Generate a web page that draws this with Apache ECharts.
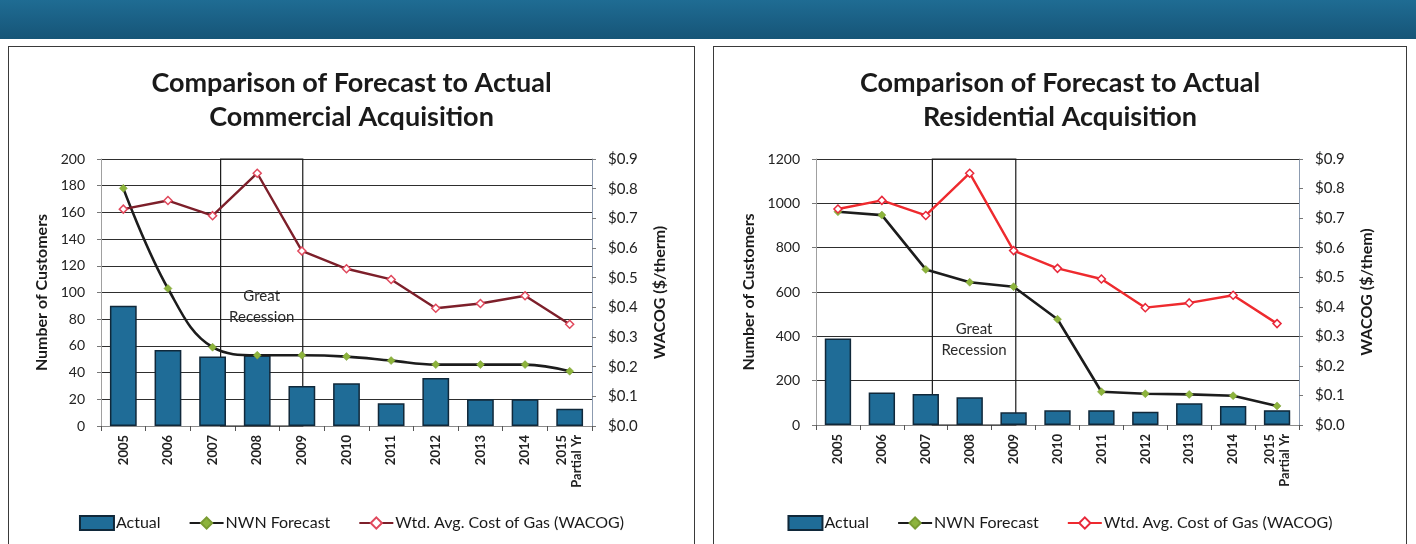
<!DOCTYPE html>
<html>
<head>
<meta charset="utf-8">
<script src="https://cdn.jsdelivr.net/npm/echarts@6/dist/echarts.min.js"></script>
<style>
  html, body { margin: 0; padding: 0; background: #fff; }
  body { width: 1416px; height: 544px; position: relative; overflow: hidden; font-family: Lato, sans-serif; }
  .banner {
    position: absolute; left: 0; top: 0; width: 1416px; height: 39px;
    background: linear-gradient(180deg, #1f6c93 0%, #1a5f84 55%, #165577 100%);
  }
  .panel { position: absolute; top: 46px; height: 560px; border: 1.5px solid #3a3a3a; box-sizing: border-box; }
  .chart { position: absolute; top: 46px; height: 498px; }
</style>
</head>
<body>
<div class="banner"></div>
<div class="panel" style="left:8px;width:687px;"></div>
<div class="panel" style="left:713px;width:694px;"></div>
<div class="chart" id="commercial" style="left:9px;width:685px;"></div>
<div class="chart" id="residential" style="left:714px;width:692px;"></div>
<script>
// categories
const years = ['2005', '2006', '2007', '2008', '2009', '2010', '2011', '2012', '2013', '2014', '2015\nPartial Yr']
// weighted avg cost of gas, $/therm (same on both charts)
const wacog = [0.731, 0.76, 0.709, 0.852, 0.59, 0.53, 0.494, 0.397, 0.413, 0.439, 0.343]
// commercial customers
const commercialActual = [90, 57, 52, 53, 30, 32, 17, 36, 20, 20, 13]
const commercialForecast = [178, 103, 59, 53, 53, 52, 49, 46, 46, 46, 41]
// residential customers
const residentialActual = [390, 147, 140, 125, 57, 66, 67, 60, 98, 86, 67]
const residentialForecast = [962, 947, 702, 644, 624, 477, 150, 141, 138, 132, 86]
// recession span (category names)
const recessionFrom = '2007'
const recessionTo = '2009'

const legendNames = ['Actual', 'NWN Forecast', 'Wtd. Avg. Cost of Gas (WACOG)']

const buildOption = (cfg) => {
  const from = years.indexOf(recessionFrom) + cfg.boxShift[0]
  const to = years.indexOf(recessionTo) + cfg.boxShift[1]
  return {
    animation: false,
    textStyle: { fontFamily: 'Lato' },
    title: {
      text: cfg.title,
      left: 'center',
      top: 20,
      padding: 0,
      textStyle: { fontSize: 27, fontWeight: 'bold', lineHeight: 34, color: '#1a1a1a', fontFamily: 'Lato' }
    },
    legend: {
      data: [{ name: legendNames[0], icon: 'rect' }, legendNames[1], legendNames[2]],
      left: 'center',
      top: 464,
      itemWidth: 34,
      itemHeight: 14,
      itemGap: 28,
      textStyle: { fontSize: 16, color: '#1a1a1a', padding: [0, 0, 0, -3] }
    },
    grid: cfg.grid,
    xAxis: [{
      type: 'category',
      data: years,
      axisLine: { lineStyle: { color: '#8a8a8a' } },
      axisTick: { show: true, length: 5, lineStyle: { color: '#555' } },
      axisLabel: { interval: 0, rotate: 90, fontSize: 13, fontWeight: 'bold', color: '#222', margin: 9, lineHeight: 15 }
    }, {
      type: 'value', min: -0.5, max: years.length - 0.5, show: false
    }],
    yAxis: [{
      type: 'value',
      min: 0, max: cfg.leftMax, interval: cfg.leftInterval,
      name: 'Number of Customers',
      nameLocation: 'middle',
      nameGap: cfg.leftNameGap,
      nameTextStyle: { fontSize: 16, fontWeight: 'bold', color: '#1a1a1a' },
      axisLine: { show: true, onZero: false, lineStyle: { color: '#a0a0a0' } },
      axisTick: { show: true, length: 4, lineStyle: { color: '#777' } },
      axisLabel: { fontSize: 14, color: '#222', margin: 16, formatter: v => String(v) },
      splitLine: { lineStyle: { color: '#2e2e2e', width: 1.2 } }
    }, {
      type: 'value',
      min: 0, max: 0.9, interval: 0.1,
      position: 'right',
      name: cfg.rightName,
      nameLocation: 'middle',
      nameGap: 60,
      nameTextStyle: { fontSize: 16, fontWeight: 'bold', color: '#1a1a1a' },
      axisLine: { show: true, onZero: false, lineStyle: { color: '#8c9bb0' } },
      axisTick: { show: true, length: 4, lineStyle: { color: '#777' } },
      axisLabel: { fontSize: 15, color: '#222', margin: 16, formatter: v => '$' + v.toFixed(1) },
      splitLine: { show: false }
    }],
    series: [{
      name: 'Actual',
      type: 'bar',
      data: cfg.actual,
      barCategoryGap: '40%',
      z: 2,
      itemStyle: { color: '#1f6c97', borderColor: '#10283a', borderWidth: 1.5 }
    }, {
      name: 'NWN Forecast',
      type: 'line',
      data: cfg.forecast,
      smooth: cfg.smooth,
      z: 4,
      symbol: 'diamond',
      symbolSize: 8,
      lineStyle: { color: '#1c1c1c', width: 2.6 },
      itemStyle: { color: '#8db43c', borderColor: '#7a9c32', borderWidth: 0.5 }
    }, {
      name: 'Wtd. Avg. Cost of Gas (WACOG)',
      type: 'line',
      yAxisIndex: 1,
      data: wacog,
      z: 4,
      symbol: 'diamond',
      symbolSize: 8,
      lineStyle: { color: cfg.wacogColor, width: 2.4 },
      itemStyle: { color: '#fff', borderColor: cfg.wacogMarker, borderWidth: 1.5 }
    }, {
      name: 'recession',
      type: 'line',
      xAxisIndex: 1,
      data: [],
      z: cfg.boxZ,
      silent: true,
      markArea: {
        silent: true,
        itemStyle: { color: 'rgba(0,0,0,0)', borderColor: '#1a1a1a', borderWidth: 1.2 },
        label: {
          show: true,
          position: 'inside',
          offset: [0, cfg.labelOffset],
          formatter: 'Great\nRecession',
          fontSize: 15,
          lineHeight: 21,
          color: '#2a2a2a'
        },
        data: [[{ xAxis: from }, { xAxis: to }]]
      }
    }]
  }
}

const commercialChart = echarts.init(document.getElementById('commercial'))
commercialChart.setOption(buildOption({
  title: 'Comparison of Forecast to Actual\nCommercial Acquisition',
  actual: commercialActual,
  forecast: commercialForecast,
  smooth: 0.4,
  leftMax: 200, leftInterval: 20, leftNameGap: 44,
  rightName: 'WACOG ($/therm)',
  wacogColor: '#7d1f2a', wacogMarker: '#e0485c',
  boxShift: [0.18, 0.02], boxZ: 1, labelOffset: 14,
  grid: { left: 92, right: 102, top: 113, bottom: 118 }
}))

const residentialChart = echarts.init(document.getElementById('residential'))
residentialChart.setOption(buildOption({
  title: 'Comparison of Forecast to Actual\nResidential Acquisition',
  actual: residentialActual,
  forecast: residentialForecast,
  smooth: false,
  leftMax: 1200, leftInterval: 200, leftNameGap: 54,
  rightName: 'WACOG ($/them)',
  wacogColor: '#ee2a2e', wacogMarker: '#e8283a',
  boxShift: [0.15, 0.05], boxZ: 5, labelOffset: 48,
  grid: { left: 102, right: 107, top: 113, bottom: 119 }
}))
</script>
</body>
</html>
